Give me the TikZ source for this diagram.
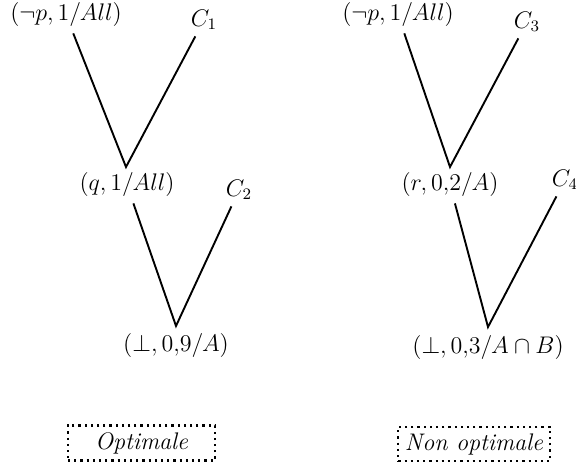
\documentclass[tikz,border=0pt]{standalone}
\usepackage{amsmath, amssymb}
\usepackage{tikz}
\usetikzlibrary{positioning, calc}

\begin{document}
\begin{tikzpicture}[
  x=0.5pt, y=-0.5pt,
  lbl/.style={inner sep=3pt, font=\large},
  edge/.style={line width=0.95pt},
  tag/.style={rectangle, draw, dotted, line width=1.1pt, minimum width=73.5pt, minimum height=17pt, font=\large\itshape}
]
\useasboundingbox (0,0) rectangle (576,469);
% left tree
\node[lbl] (np1) at (66,15) {$(\neg p, 1/All)$};
\node[lbl] (c1) at (204,20) {$C_1$};
\coordinate (v1) at (126,167);
\node[lbl] (q1) at (127,185) {$(q, 1/All)$};
\node[lbl] (c2) at (239,190) {$C_2$};
\coordinate (w1) at (176,326);
\node[lbl] (b1) at (176,345) {$(\bot, 0{,}9/A)$};
\draw[edge] (np1) -- (v1) -- (c1);
\draw[edge] (q1) -- (w1) -- (c2);
\node[tag] (opt) at (141.5,443) {Optimale};
% right tree
\node[lbl] (np2) at (398,15) {$(\neg p, 1/All)$};
\node[lbl] (c3) at (527,22) {$C_3$};
\coordinate (v2) at (450,167);
\node[lbl] (r2) at (450,185) {$(r, 0{,}2/A)$};
\node[lbl] (c4) at (565,180) {$C_4$};
\coordinate (w2) at (488,327);
\node[lbl] (b2) at (488,347) {$(\bot, 0{,}3/A\cap B)$};
\draw[edge] (np2) -- (v2) -- (c3);
\draw[edge] (r2) -- (w2) -- (c4);
\node[tag] (nopt) at (474,444) {Non optimale};
\end{tikzpicture}
\end{document}
